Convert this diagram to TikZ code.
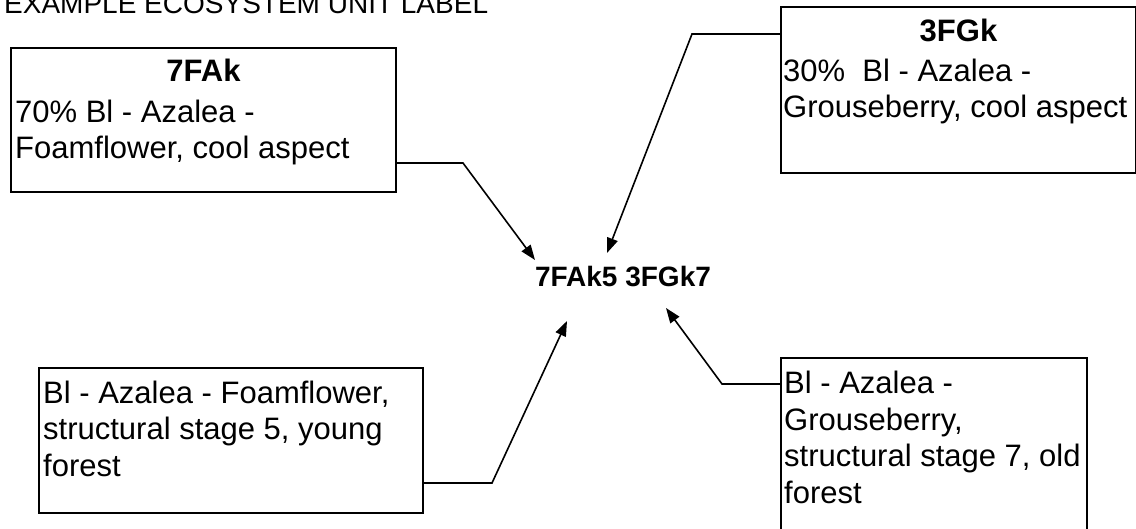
\documentclass[tikz,border=0pt]{standalone}
\usepackage{fontspec}
\setmainfont{Liberation Sans}
\usetikzlibrary{arrows.meta}

\begin{document}
\begin{tikzpicture}[x=1pt,y=-1pt]
  \newcommand{\Xleft}[0]{ 10 }
  \newcommand{\Xright}[0]{ 780 }
  \newcommand{\Ytop}[0]{ 47 }
  \newcommand{\Ybottom}[0]{ 367 }

  \newcommand{\inset}[0]{ 5pt }
  \newcommand{\lineheight}[0]{ 36.5 }

  \tikzstyle{edge}  = [line width=1.6pt,draw=black]
  \tikzstyle{dedge} = [line width=1.6pt,-{Triangle[length=15pt,width=11pt]},draw=black]
  \tikzstyle{block}=[
    rectangle,
    draw=black,
    line width=2pt,
    inner sep=0pt,
    anchor=north west,
  ]
  % base anchor sits on the last line
  \tikzstyle{boxtext}=[
    anchor=base west,
    align=left,
    inner sep=0pt,
    font=\fontsize{31}{\lineheight}\selectfont,
  ]
  \tikzstyle{boxtitle}=[
    anchor=base,
    inner sep=0pt,
    font=\fontsize{31}{\lineheight}\selectfont\bfseries,
  ]

  % #1: prefix
  % #2: position
  % #3: width
  % #4: height
  \newcommand{\buildUnitBox}[4]{
    \node[
      block,
      minimum width=#3,
      minimum height=#4,
    ] (#1) at (#2) {};
  }

  \useasboundingbox (0,0) rectangle (1136,529);

  % title
  \node[anchor=base west,inner sep=0pt,font=\fontsize{28}{32}\selectfont]
    (title) at (4,14) {EXAMPLE ECOSYSTEM UNIT LABEL};

  % ecosystem unit label
  \node[anchor=base,inner sep=0pt,font=\fontsize{28}{32}\selectfont\bfseries]
    (unit) at (623,287) {7FAk5 3FGk7};

  % 7FAk component
  \buildUnitBox{fak}{\Xleft,\Ytop}{385pt}{144pt}
  \node[boxtitle] (fak title) at ([yshift=-35pt]fak.north) {7FAk};
  \node[boxtext] (fak text) at ([xshift=\inset,yshift=-112pt]fak.north west)
    {70\% Bl - Azalea -\\Foamflower, cool aspect};

  % 3FGk component
  \buildUnitBox{fgk}{\Xright,6}{355pt}{166pt}
  \node[boxtitle] (fgk title) at ([yshift=-36pt]fgk.north) {3FGk};
  \node[boxtext] (fgk text) at ([xshift=3pt,yshift=-112pt]fgk.north west)
    {30\%\ \ Bl - Azalea -\\Grouseberry, cool aspect};

  % structural stage 5
  \buildUnitBox{ssv}{38,\Ybottom}{384pt}{145pt}
  \node[boxtext] (ssv text) at ([xshift=\inset,yshift=-109pt]ssv.north west)
    {Bl - Azalea - Foamflower,\\structural stage 5, young\\forest};

  % structural stage 7
  \buildUnitBox{ssvii}{\Xright,357}{306pt}{200pt}
  \node[boxtext] (ssvii text) at ([xshift=4pt,yshift=-146pt]ssvii.north west)
    {Bl - Azalea -\\Grouseberry,\\structural stage 7, old\\forest};

  % wiring
  \coordinate (fak out)   at ([yshift=-116pt]fak.north east);
  \coordinate (fak bend)  at (463,163);
  \coordinate (fak tip)   at (535,260);
  \coordinate (fgk out)   at ([yshift=-28pt]fgk.north west);
  \coordinate (fgk bend)  at (692,34);
  \coordinate (fgk tip)   at (607,253);
  \coordinate (ssv out)   at ([yshift=-116pt]ssv.north east);
  \coordinate (ssv bend)  at (492,483);
  \coordinate (ssv tip)   at (567,321);
  \coordinate (ssvii out)  at ([yshift=-27pt]ssvii.north west);
  \coordinate (ssvii bend) at (722,384);
  \coordinate (ssvii tip)  at (666,308);

  \draw[dedge] (fak out) -- (fak bend) -- (fak tip);
  \draw[dedge] (fgk out) -- (fgk bend) -- (fgk tip);
  \draw[dedge] (ssv out) -- (ssv bend) -- (ssv tip);
  \draw[dedge] (ssvii out) -- (ssvii bend) -- (ssvii tip);
\end{tikzpicture}
\end{document}
